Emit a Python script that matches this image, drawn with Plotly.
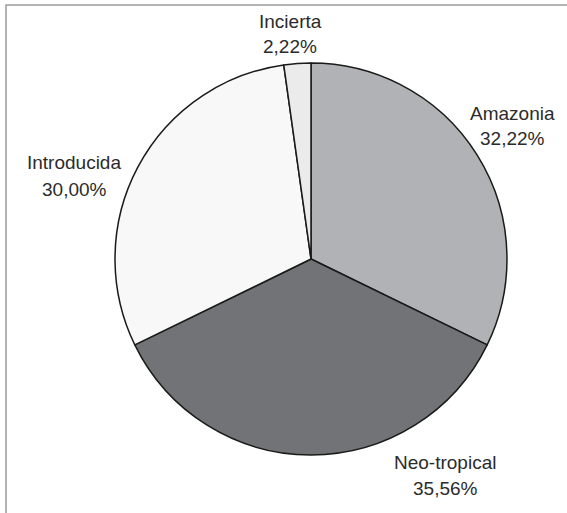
import plotly.graph_objects as go

categories = ["Amazonia", "Neo-tropical", "Introducida", "Incierta"]
values = [32.22, 35.56, 30.00, 2.22]
colors = ["#b1b2b5", "#727376", "#f8f8f8", "#ebebeb"]

W, H = 567, 513
# label centre positions in pixels (layout)
label_pos = {
    "Amazonia": (512, 113),
    "Neo-tropical": (445, 462),
    "Introducida": (74, 163),
    "Incierta": (290, 21),
}

fig = go.Figure(go.Pie(
    labels=categories,
    values=values,
    sort=False,
    direction="clockwise",
    rotation=0,
    marker=dict(colors=colors, line=dict(color="#1a1a1a", width=1.5)),
    textinfo="none",
    hoverinfo="label+percent",
    domain=dict(x=[115 / W, 507 / W], y=[(H - 455) / H, (H - 63) / H]),
    showlegend=False,
))

annotations = []
for cat, val in zip(categories, values):
    px, py = label_pos[cat]
    pct = f"{val:.2f}".replace(".", ",") + "%"
    for txt, dy in ((cat, 0), (pct, 26)):
        annotations.append(dict(
            x=px / W, y=1 - (py + dy) / H, xref="paper", yref="paper",
            text=txt, showarrow=False, xanchor="center", yanchor="middle",
            font=dict(family="Liberation Sans, Arial, sans-serif", size=19, color="#2b2b2b"),
        ))

shapes = [
    dict(type="line", xref="paper", yref="paper", x0=5.5 / W, x1=1, y0=1 - 5 / H, y1=1 - 5 / H,
         line=dict(color="#9a9a9a", width=1.5)),
    dict(type="line", xref="paper", yref="paper", x0=6 / W, x1=6 / W, y0=0, y1=1 - 5 / H,
         line=dict(color="#9a9a9a", width=1.5)),
]

fig.update_layout(
    width=W, height=H,
    margin=dict(l=0, r=0, t=0, b=0),
    paper_bgcolor="white", plot_bgcolor="white",
    annotations=annotations, shapes=shapes,
)

fig.write_html("out.html")
